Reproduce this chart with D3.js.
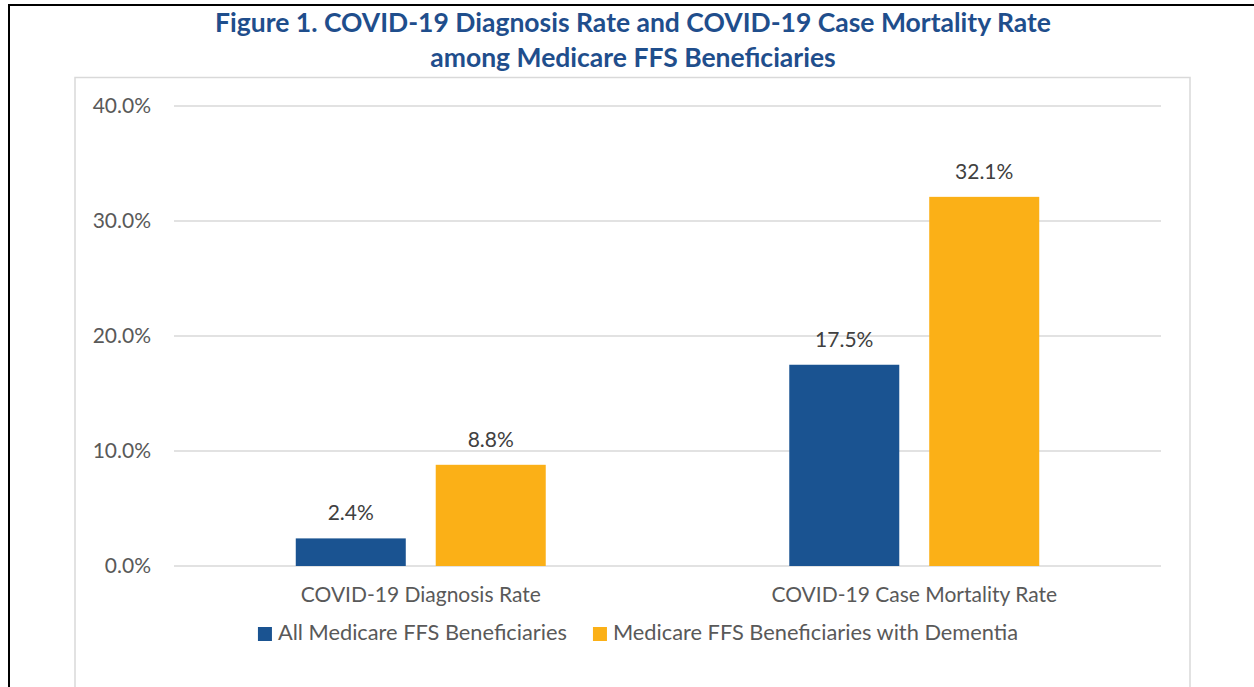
<!DOCTYPE html>
<html>
<head>
<meta charset="utf-8">
<script src="https://cdn.jsdelivr.net/npm/d3@7"></script>
<style>
  body { margin: 0; background: #fff; }
  text { font-family: Lato, "Open Sans", sans-serif; }
</style>
</head>
<body>
<svg id="chart"></svg>
<script>
// data
const categories = ["COVID-19 Diagnosis Rate", "COVID-19 Case Mortality Rate"];
const series = ["All Medicare FFS Beneficiaries", "Medicare FFS Beneficiaries with Dementia"];
const allValues = [2.4, 17.5];
const dementiaValues = [8.8, 32.1];
const yTicks = [0, 10, 20, 30, 40];
const colors = ["#1A5391", "#FBB017"];
const titleLines = ["Figure 1. COVID-19 Diagnosis Rate and COVID-19 Case Mortality Rate",
      "among Medicare FFS Beneficiaries"];

const WIDTH = 1254;
const HEIGHT = 687;
const MARGIN = { top: 106, right: 93, bottom: 121, left: 174 };
const FONT = "21px";

const svg = d3.select("#chart")
      .attr("width", WIDTH)
      .attr("height", HEIGHT);

svg.append("rect")
      .attr("width", WIDTH)
      .attr("height", HEIGHT)
      .attr("fill", "#fff");

// borde negro exterior
svg.append("path")
      .attr("d", `M9,${HEIGHT} V5 H${WIDTH}`)
      .attr("fill", "none")
      .attr("stroke", "#000")
      .attr("stroke-width", 2);

// marco gris del grafico
svg.append("rect")
      .attr("x", 75)
      .attr("y", 77.5)
      .attr("width", 1115)
      .attr("height", HEIGHT)
      .attr("fill", "none")
      .attr("stroke", "#D9D9D9")
      .attr("stroke-width", 1.5);

// titulo
svg.append("text")
      .attr("x", 633)
      .attr("y", 32)
      .attr("text-anchor", "middle")
      .style("font-size", "26.5px")
      .style("font-weight", "bold")
      .style("fill", "#1F4E8C")
      .selectAll("tspan")
      .data(titleLines)
      .enter()
      .append("tspan")
      .attr("x", 633)
      .attr("dy", (d, i) => i == 0 ? 0 : 35)
      .text(d => d);

const xScale = d3.scaleBand()
      .domain(categories)
      .range([MARGIN.left, WIDTH - MARGIN.right])
      .padding(0);

const xInner = d3.scaleBand()
      .domain(series)
      .range([0, xScale.bandwidth()])
      .paddingInner(0.214)
      .paddingOuter(0.87);

const yScale = d3.scaleLinear()
      .domain([0, 40])
      .range([HEIGHT - MARGIN.bottom, MARGIN.top]);

// lineas de grilla
svg.append("g")
      .selectAll("line")
      .data(yTicks)
      .enter()
      .append("line")
      .attr("x1", MARGIN.left)
      .attr("x2", WIDTH - MARGIN.right)
      .attr("y1", d => yScale(d))
      .attr("y2", d => yScale(d))
      .attr("stroke", "#D9D9D9")
      .attr("stroke-width", 1.5);

const axisLeft = d3.axisLeft(yScale)
      .tickValues(yTicks)
      .tickSize(0)
      .tickPadding(23)
      .tickFormat(d => d.toFixed(1) + "%");

const yAxis = svg.append("g")
      .attr("transform", `translate(${MARGIN.left}, 0)`)
      .call(axisLeft);
yAxis.select(".domain").remove();
yAxis.selectAll("text")
      .style("font-family", "Lato, 'Open Sans', sans-serif")
      .style("font-size", FONT)
      .style("fill", "#595959");

const axisBottom = d3.axisBottom(xScale)
      .tickSize(0)
      .tickPadding(21);

const xAxis = svg.append("g")
      .attr("transform", `translate(0, ${yScale(0)})`)
      .call(axisBottom);
xAxis.select(".domain").remove();
xAxis.selectAll("text")
      .style("font-family", "Lato, 'Open Sans', sans-serif")
      .style("font-size", FONT)
      .style("fill", "#595959");

const barData = [];
categories.forEach((c, i) => {
      barData.push({ cat: c, s: series[0], v: allValues[i], color: colors[0] });
      barData.push({ cat: c, s: series[1], v: dementiaValues[i], color: colors[1] });
});

const bars = svg.append("g")
      .selectAll("g")
      .data(barData)
      .enter()
      .append("g")
      .attr("transform", d => `translate(${xScale(d.cat) + xInner(d.s)}, 0)`);

bars.append("rect")
      .attr("x", 0)
      .attr("y", d => yScale(d.v))
      .attr("width", xInner.bandwidth())
      .attr("height", d => yScale(0) - yScale(d.v))
      .attr("fill", d => d.color);

bars.append("text")
      .attr("x", xInner.bandwidth() / 2)
      .attr("y", d => yScale(d.v) - 18)
      .attr("text-anchor", "middle")
      .style("font-size", FONT)
      .style("fill", "#404040")
      .text(d => d.v.toFixed(1) + "%");

// leyenda
const legend = svg.append("g");
const items = legend.selectAll("g")
      .data(series)
      .enter()
      .append("g");
items.append("rect")
      .attr("y", -13)
      .attr("width", 14)
      .attr("height", 14)
      .attr("fill", (d, i) => colors[i]);
items.append("text")
      .attr("x", 20)
      .attr("y", 0)
      .style("font-size", "21.8px")
      .style("fill", "#595959")
      .text(d => d);

let offset = 0;
items.each(function () {
      d3.select(this).attr("transform", `translate(${offset}, 0)`);
      offset += this.getBBox().width + 26;
});
const legendWidth = offset - 26;
legend.attr("transform", `translate(${638 - legendWidth / 2}, 640)`);
</script>
</body>
</html>
